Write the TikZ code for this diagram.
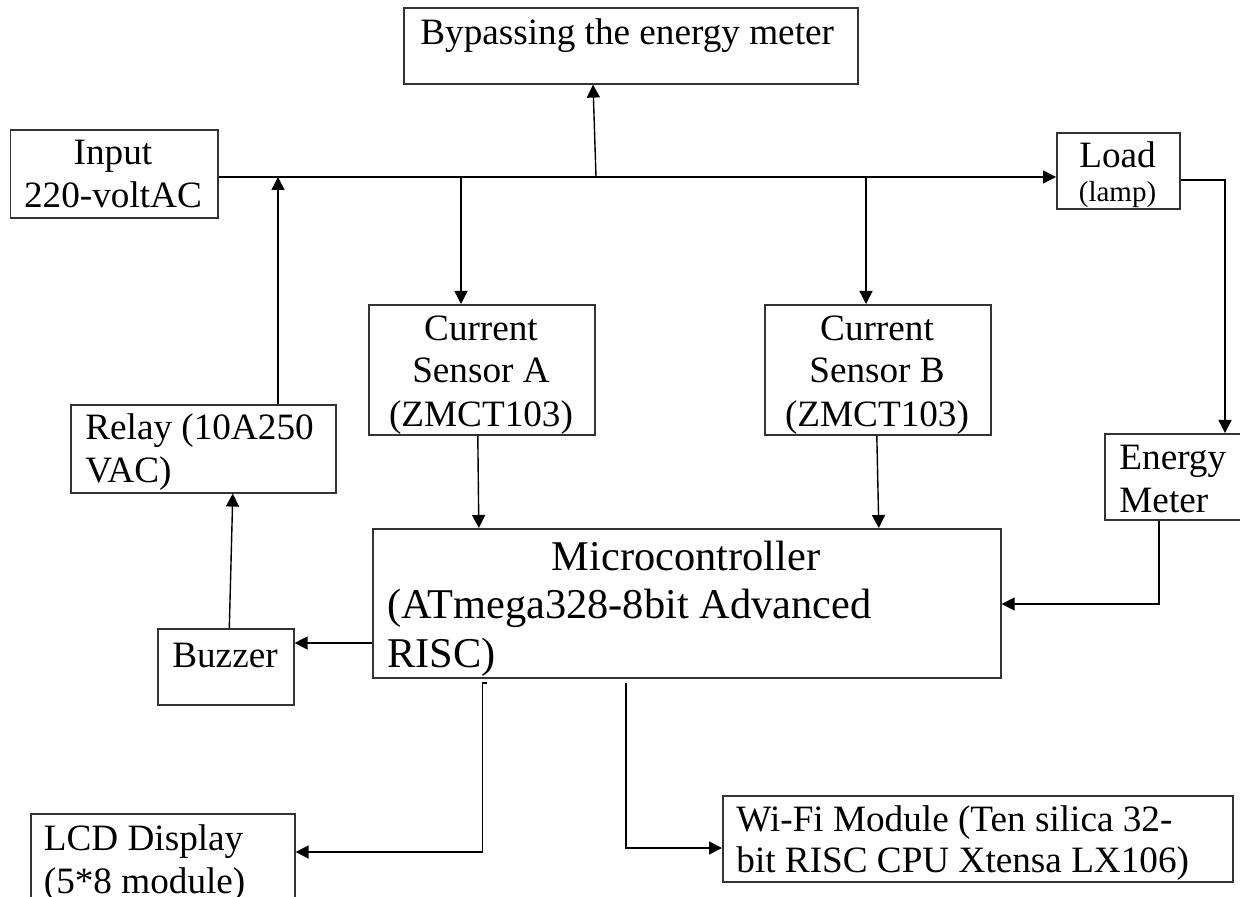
\documentclass[tikz,border=0pt]{standalone}
\usepackage{fontspec}
\setmainfont{Liberation Serif}
\usepackage{tikz}
\usetikzlibrary{arrows.meta,positioning,calc}
\newcommand{\blkfont}{\fontsize{18.6}{21.5}\selectfont}
\newcommand{\mcfont}{\fontsize{21.2}{24.3}\selectfont}
\newcommand{\lampfont}{\fontsize{14.5}{17}\selectfont}

\begin{document}
\begin{tikzpicture}[x=0.5pt, y=-0.5pt,
  blk/.style={draw=black!80, line width=0.8pt, rectangle, inner sep=0pt, anchor=north west},
  lbl/.style={inner sep=0pt, font=\blkfont},
  arr/.style={-{Triangle[length=6.5pt, width=6.5pt]}, line width=0.7pt}
]
  \useasboundingbox (0,0) rectangle (1240,897);
  \clip (0,0) rectangle (1240,897);

  % boxes
  \node[blk, minimum width=227pt,   minimum height=38pt]   (bypass) at (403,7)    {};
  \node[blk, minimum width=103.75pt,minimum height=44pt]   (input)  at (9.5,129)  {};
  \node[blk, minimum width=61.5pt,  minimum height=38pt]   (load)   at (1056,132) {};
  \node[blk, minimum width=113pt,   minimum height=65pt]   (senA)   at (368,304)  {};
  \node[blk, minimum width=113pt,   minimum height=65pt]   (senB)   at (764,304)  {};
  \node[blk, minimum width=132.5pt, minimum height=44pt]   (relay)  at (70,404)   {};
  \node[blk, minimum width=73pt,    minimum height=43pt]   (meter)  at (1104,433) {};
  \node[blk, minimum width=314pt,   minimum height=74.5pt] (micro)  at (372,528)  {};
  \node[blk, minimum width=68pt,    minimum height=38pt]   (buzzer) at (157,628)  {};
  \node[blk, minimum width=132pt,   minimum height=58.5pt] (lcd)    at (30,813)   {};
  \node[blk, minimum width=255pt,   minimum height=43pt]   (wifi)   at (722,795)  {};

  % texts (multi-line ones sit on their last baseline)
  \node[lbl, anchor=base west] (bypasstxt) at (420,45) {Bypassing the energy meter};
  \node[lbl, anchor=base, align=center] (inputtxt) at (113,208) {Input\\220-voltAC};
  \node[lbl, anchor=base] (loadtxt) at (1117.5,168) {Load};
  \node[lbl, anchor=base, font=\lampfont] (lamptxt) at (1117.5,202) {(lamp)};
  \node[lbl, anchor=base, align=center] (senAtxt) at (481,426) {Current\\Sensor A\\(ZMCT103)};
  \node[lbl, anchor=base, align=center] (senBtxt) at (877,426) {Current\\Sensor B\\(ZMCT103)};
  \node[lbl, anchor=base west, align=left] (relaytxt) at (85,482) {Relay (10A250\\VAC)};
  \node[lbl, anchor=base west, align=left] (metertxt) at (1119,512) {Energy\\Meter};
  \node[lbl, anchor=base, font=\mcfont] (microtxt) at (686,570) {Microcontroller};
  \node[lbl, anchor=base west, align=left, font=\mcfont] (microsub) at (387,667) {(ATmega328-8bit Advanced\\RISC)};
  \node[lbl, anchor=base] (buzzertxt) at (225,667) {Buzzer};
  \node[lbl, anchor=base west, align=left] (lcdtxt) at (43.5,893) {LCD Display\\(5*8 module)};
  \node[lbl, anchor=base west, align=left, font=\fontsize{18.6}{20.5}\selectfont] (wifitxt) at (736,872) {Wi-Fi Module (Ten silica 32-\\bit RISC CPU Xtensa LX106)};

  % bus points
  \coordinate (bus) at (0,177);
  \coordinate (jRelay) at (278,177);
  \coordinate (jA) at (461,177);
  \coordinate (jBy) at (596,177);
  \coordinate (jB) at (866,177);
  \coordinate (lampR) at (1225,180);
  \coordinate (mtrD) at (1159,604);
  \coordinate (bzL) at (0,643);
  \coordinate (lcdA) at (482.5,683);
  \coordinate (lcdB) at (482.5,852);
  \coordinate (wifiA) at (626,683);
  \coordinate (wifiB) at (626,848);

  % supply line
  \draw[arr] (input.east |- bus) -- (load.west |- bus);
  \draw[arr] (jBy) -- ([xshift=-1.5pt]jBy |- bypass.south);
  \draw[arr] (jA) -- (jA |- senA.north);
  \draw[arr] (jB) -- (jB |- senB.north);
  \draw[arr] (relay.north -| jRelay) -- (jRelay);
  \draw[arr] (load.east |- lampR) -- (lampR) -- (lampR |- meter.north);
  % into the microcontroller
  \draw[arr] ([xshift=-2pt]senA.south) -- ([xshift=-1.5pt]senA.south |- micro.north);
  \draw[arr] ([xshift=-0.5pt]senB.south) -- ([xshift=0.5pt]senB.south |- micro.north);
  \draw[arr] (mtrD |- meter.south) -- (mtrD) -- (mtrD -| micro.east);
  % out of the microcontroller
  \draw[arr] (micro.west |- bzL) -- (buzzer.east |- bzL);
  \draw[arr] ([xshift=1.75pt]buzzer.north) -- ([xshift=3.5pt]buzzer.north |- relay.south);
  \draw[arr] ([xshift=2pt]lcdA) -- (lcdA) -- (lcdB) -- (lcdB -| lcd.east);
  \draw[arr] (wifiA) -- (wifiB) -- (wifiB -| wifi.west);

\end{tikzpicture}
\end{document}
